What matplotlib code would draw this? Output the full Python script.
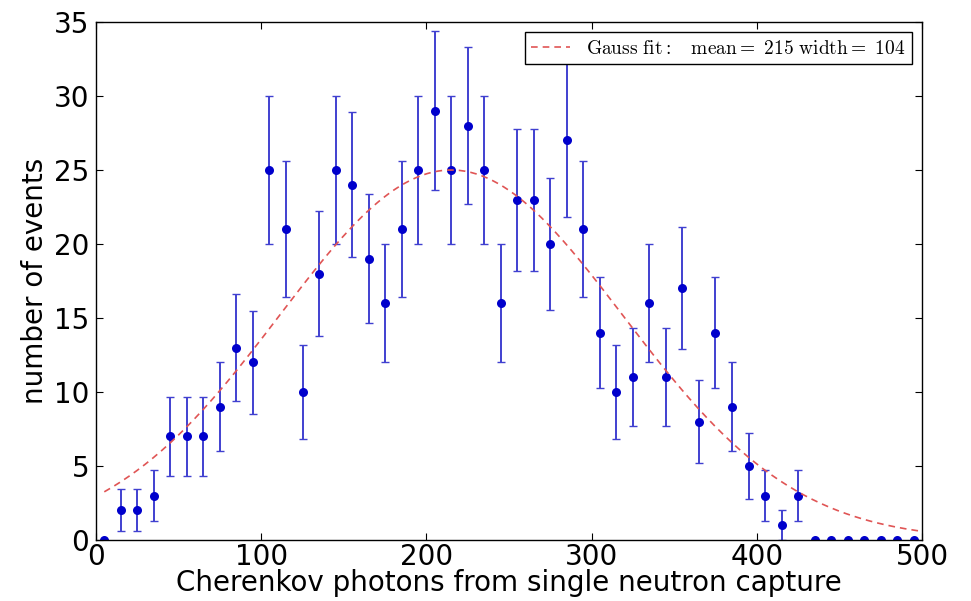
import numpy as np
import matplotlib
matplotlib.use("Agg")
import matplotlib.pyplot as plt

# bin centres (10-photon bins) and counts per bin
bin_centres = [5, 15, 25, 35, 45, 55, 65, 75, 85, 95,
               105, 115, 125, 135, 145, 155, 165, 175, 185, 195,
               205, 215, 225, 235, 245, 255, 265, 275, 285, 295,
               305, 315, 325, 335, 345, 355, 365, 375, 385, 395,
               405, 415, 425, 435, 445, 455, 465, 475, 485, 495]
counts = [0, 2, 2, 3, 7, 7, 7, 9, 13, 12,
          25, 21, 10, 18, 25, 24, 19, 16, 21, 25,
          29, 25, 28, 25, 16, 23, 23, 20, 27, 21,
          14, 10, 11, 16, 11, 17, 8, 14, 9, 5,
          3, 1, 3, 0, 0, 0, 0, 0, 0, 0]

# gauss fit parameters (from legend)
fit_amp = 25.0
fit_mean = 215
fit_width = 104

x = np.array(bin_centres)
n = np.array(counts)
err = np.sqrt(n)

plt.rcParams["mathtext.fontset"] = "cm"

fig = plt.figure(figsize=(9.71, 6.01), dpi=100)
ax = fig.add_axes([0.0989, 0.1015, 0.8506, 0.8619])

# error bars first, then markers on top
ax.errorbar(x, n, yerr=err, fmt="none", ecolor="#4040d0", elinewidth=1.4,
            capsize=3, capthick=1.0)
ax.plot(x, n, "o", color="#0000cc", markersize=6.5, markeredgewidth=0)

xf = np.linspace(5, 500, 300)
yf = fit_amp * np.exp(-(xf - fit_mean) ** 2 / (2 * fit_width ** 2))
ax.plot(xf, yf, color="#e05555", linewidth=1.2, dashes=(4, 3),
        label=r"$\mathrm{Gauss\ fit:}\quad \mathrm{mean} = \ 215\ \mathrm{width} = \ 104$")

ax.set_xlim(0, 500)
ax.set_ylim(0, 35)
ax.set_xticks([0, 100, 200, 300, 400, 500])
ax.set_yticks([0, 5, 10, 15, 20, 25, 30, 35])
ax.tick_params(direction="in", top=True, right=True, labelsize=20,
               length=5, width=0.8, pad=5)
ax.tick_params(axis="x", pad=2)
for s in ax.spines.values():
    s.set_linewidth(1.0)

ax.set_xlabel("Cherenkov photons from single neutron capture", fontsize=20, labelpad=-1)
ax.set_ylabel("number of events", fontsize=20, labelpad=3)

leg = ax.legend(loc="upper right", fontsize=14, fancybox=False, framealpha=1,
                edgecolor="black", borderaxespad=0.5, handlelength=2.0,
                borderpad=0.35)
leg.get_frame().set_linewidth(1.0)

fig.savefig("out.png", dpi=100)
